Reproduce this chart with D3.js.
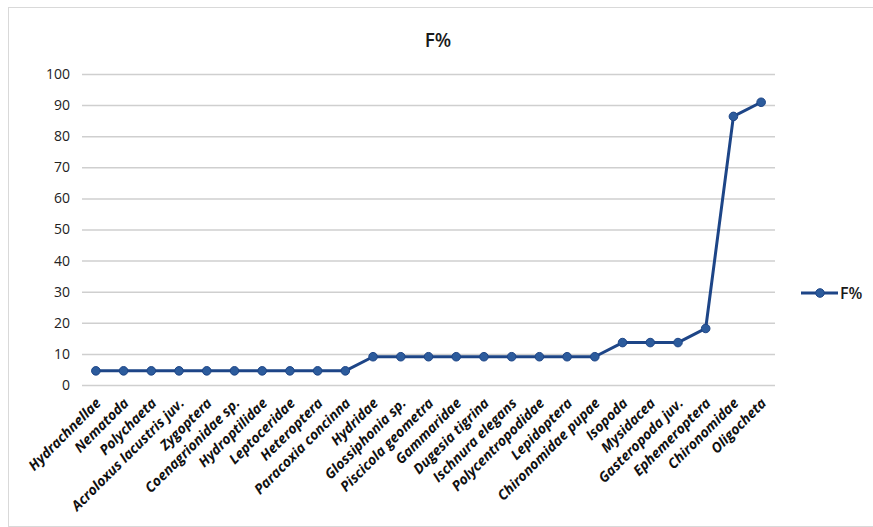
<!DOCTYPE html>
<html>
<head>
<meta charset="utf-8">
<script src="https://cdn.jsdelivr.net/npm/d3@7/dist/d3.min.js"></script>
<style>
  html, body { margin: 0; padding: 0; background: #fff; }
  svg { display: block; }
</style>
</head>
<body>
<svg id="chart" width="873" height="527"></svg>
<script>
// Frequency of occurrence (F%) per taxon
const taxa = [
  "Hydrachnellae", "Nematoda", "Polychaeta", "Acroloxus lacustris juv.", "Zygoptera",
  "Coenagrionidae sp.", "Hydroptilidae", "Leptoceridae", "Heteroptera", "Paracoxia concinna",
  "Hydridae", "Glossiphonia sp.", "Piscicola geometra", "Gammaridae", "Dugesia tigrina",
  "Ischnura elegans", "Polycentropodidae", "Lepidoptera", "Chironomidae pupae", "Isopoda",
  "Mysidacea", "Gasteropoda juv.", "Ephemeroptera", "Chironomidae", "Oligocheta"
];
const fValues = [
  4.55, 4.55, 4.55, 4.55, 4.55,
  4.55, 4.55, 4.55, 4.55, 4.55,
  9.09, 9.09, 9.09, 9.09, 9.09,
  9.09, 9.09, 9.09, 9.09, 13.64,
  13.64, 13.64, 18.18, 86.36, 90.91
];
const yTicks = [0, 10, 20, 30, 40, 50, 60, 70, 80, 90, 100];
const seriesName = "F%";

const svg = d3.select("#chart");
const lineColor = "#1d4587";
const markerFill = "#2c5b9c";
const font = "'Open Sans', 'DejaVu Sans', sans-serif";

// outer chart frame (right side runs off the canvas)
svg.append("rect")
  .attr("x", 8.5).attr("y", 7.5)
  .attr("width", 880).attr("height", 519)
  .attr("fill", "#fff")
  .attr("stroke", "#d9d9d9").attr("stroke-width", 1);

const plot = { left: 82, right: 775, top: 74, bottom: 385 };

const x = d3.scaleBand().domain(taxa).range([plot.left, plot.right]).padding(0);
const y = d3.scaleLinear().domain([0, 100]).range([plot.bottom, plot.top]);

// title
svg.append("text")
  .attr("x", 438).attr("y", 47)
  .attr("text-anchor", "middle")
  .attr("font-family", font).attr("font-size", 19).attr("font-weight", 600)
  .attr("fill", "#1a1a1a")
  .text(seriesName);

// gridlines + y labels
const yAxis = d3.axisLeft(y).tickValues(yTicks).tickSize(-(plot.right - plot.left)).tickPadding(12);
const gy = svg.append("g").attr("transform", `translate(${plot.left},0)`).call(yAxis);
gy.select(".domain").remove();
gy.selectAll(".tick line").attr("stroke", "#cfcfcf").attr("stroke-width", 1.5);
gy.selectAll(".tick text")
  .attr("font-family", font).attr("font-size", 14)
  .attr("fill", "#222");

// x axis labels, rotated 45 degrees
const xAxis = d3.axisBottom(x).tickSize(0).tickPadding(0);
const gx = svg.append("g").attr("transform", `translate(0,${plot.bottom})`).call(xAxis);
gx.select(".domain").remove();
gx.selectAll(".tick text")
  .attr("font-family", font).attr("font-size", 14)
  .attr("font-style", "italic").attr("font-weight", 700)
  .attr("fill", "#111")
  .attr("text-anchor", "end")
  .attr("dy", 0)
  .attr("transform", "translate(6,19) rotate(-45)");

// series line
const cx = d => x(d) + x.bandwidth() / 2;
const line = d3.line()
  .x((d, i) => cx(taxa[i]))
  .y(d => y(d));
svg.append("path")
  .datum(fValues)
  .attr("d", line)
  .attr("fill", "none")
  .attr("stroke", lineColor).attr("stroke-width", 3)
  .attr("stroke-linejoin", "round");

svg.append("g").selectAll("circle")
  .data(fValues)
  .join("circle")
  .attr("cx", (d, i) => cx(taxa[i]))
  .attr("cy", d => y(d))
  .attr("r", 4.3)
  .attr("fill", markerFill)
  .attr("stroke", lineColor).attr("stroke-width", 1);

// legend
const lg = svg.append("g").attr("transform", "translate(801,293)");
lg.append("line").attr("x1", 0).attr("x2", 37).attr("y1", 0).attr("y2", 0)
  .attr("stroke", lineColor).attr("stroke-width", 3);
lg.append("circle").attr("cx", 19).attr("cy", 0).attr("r", 4.3)
  .attr("fill", markerFill).attr("stroke", lineColor).attr("stroke-width", 1);
lg.append("text").attr("x", 39).attr("y", 6)
  .attr("font-family", font).attr("font-size", 16).attr("font-weight", 600)
  .attr("fill", "#1a1a1a")
  .text(seriesName);
</script>
</body>
</html>
